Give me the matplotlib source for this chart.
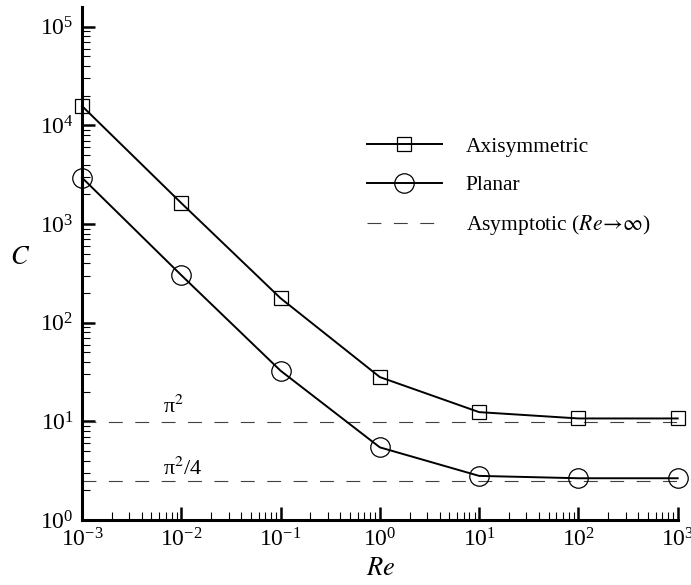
import numpy as np
import matplotlib
matplotlib.use("Agg")
from matplotlib import pyplot as plt
import matplotlib.ticker as mticker

plt.rcParams["font.family"] = ["Liberation Serif", "DejaVu Serif"]
plt.rcParams["mathtext.fontset"] = "stix"
plt.rcParams["lines.scale_dashes"] = False

# drag coefficient C versus Reynolds number
re = [1e-3, 1e-2, 1e-1, 1e0, 1e1, 1e2, 1e3]
c_axisym = [15700, 1630, 177, 28.1, 12.4, 10.7, 10.7]
c_planar = [2950, 303, 32.6, 5.45, 2.8, 2.65, 2.65]

# large-Re asymptotes
asym_values = [np.pi ** 2, np.pi ** 2 / 4]
asym_labels = [r"π$^2$", r"π$^2$/4"]
asym_label_pos = [(6.5e-3, 12.3), (6.5e-3, 2.9)]


def plot_drag():
    fig = plt.figure(figsize=(6.91, 5.85), dpi=100)
    ax = fig.add_axes([0.1187, 0.1111, 0.862, 0.877])
    ax.set_xscale("log")
    ax.set_yscale("log")

    dash = (0, (10, 9))
    for i, val in enumerate(asym_values):
        ax.plot([re[0], re[-1]], [val, val], color="0.25", lw=0.8,
                linestyle=dash,
                label=r"Asymptotic ($Re\!\rightarrow\!\infty$)" if i == 0
                else None)
        ax.text(asym_label_pos[i][0], asym_label_pos[i][1], asym_labels[i],
                fontsize=16, ha="left", va="baseline")

    ax.plot(re, c_axisym, color="black", lw=1.4, marker="s", ms=10,
            mfc="none", mec="black", mew=0.9, label="Axisymmetric",
            clip_on=False, zorder=3)
    ax.plot(re, c_planar, color="black", lw=1.4, marker="o", ms=14,
            mfc="none", mec="black", mew=0.9, label="Planar",
            clip_on=False, zorder=3)

    ax.set_xlim(1e-3, 1e3)
    ax.set_ylim(1, 10 ** 5.2)

    # axis styling: only left and bottom spines, ticks inward
    for side in ["top", "right"]:
        ax.spines[side].set_visible(False)
    for side in ["left", "bottom"]:
        ax.spines[side].set_linewidth(2.2)
    ax.xaxis.set_major_locator(mticker.LogLocator(base=10, numticks=10))
    ax.yaxis.set_major_locator(mticker.LogLocator(base=10, numticks=10))
    ax.xaxis.set_minor_locator(
        mticker.LogLocator(base=10, subs=np.arange(2, 10), numticks=20))
    ax.yaxis.set_minor_locator(
        mticker.LogLocator(base=10, subs=np.arange(2, 10), numticks=20))
    ax.xaxis.set_minor_formatter(mticker.NullFormatter())
    ax.yaxis.set_minor_formatter(mticker.NullFormatter())
    ax.tick_params(which="major", direction="in", length=9.5, width=1.8,
                   labelsize=17, pad=6)
    ax.tick_params(which="minor", direction="in", length=5.5, width=0.8)

    ax.set_xlabel("$Re$", fontsize=19)
    ax.set_ylabel("$C$", fontsize=19, rotation=0, va="center", ha="center")
    ax.xaxis.set_label_coords(0.502, -0.074)
    ax.yaxis.set_label_coords(-0.104, 0.511)

    handles, labels = ax.get_legend_handles_labels()
    order = [1, 2, 0]
    ax.legend([handles[i] for i in order], [labels[i] for i in order],
              loc="center left", bbox_to_anchor=(0.478, 0.649),
              frameon=False, fontsize=15.5, handlelength=3.5,
              handletextpad=1.1, labelspacing=0.85, borderpad=0,
              borderaxespad=0, numpoints=1)

    fig.savefig("out.png", dpi=100)


if __name__ == "__main__":
    plot_drag()
